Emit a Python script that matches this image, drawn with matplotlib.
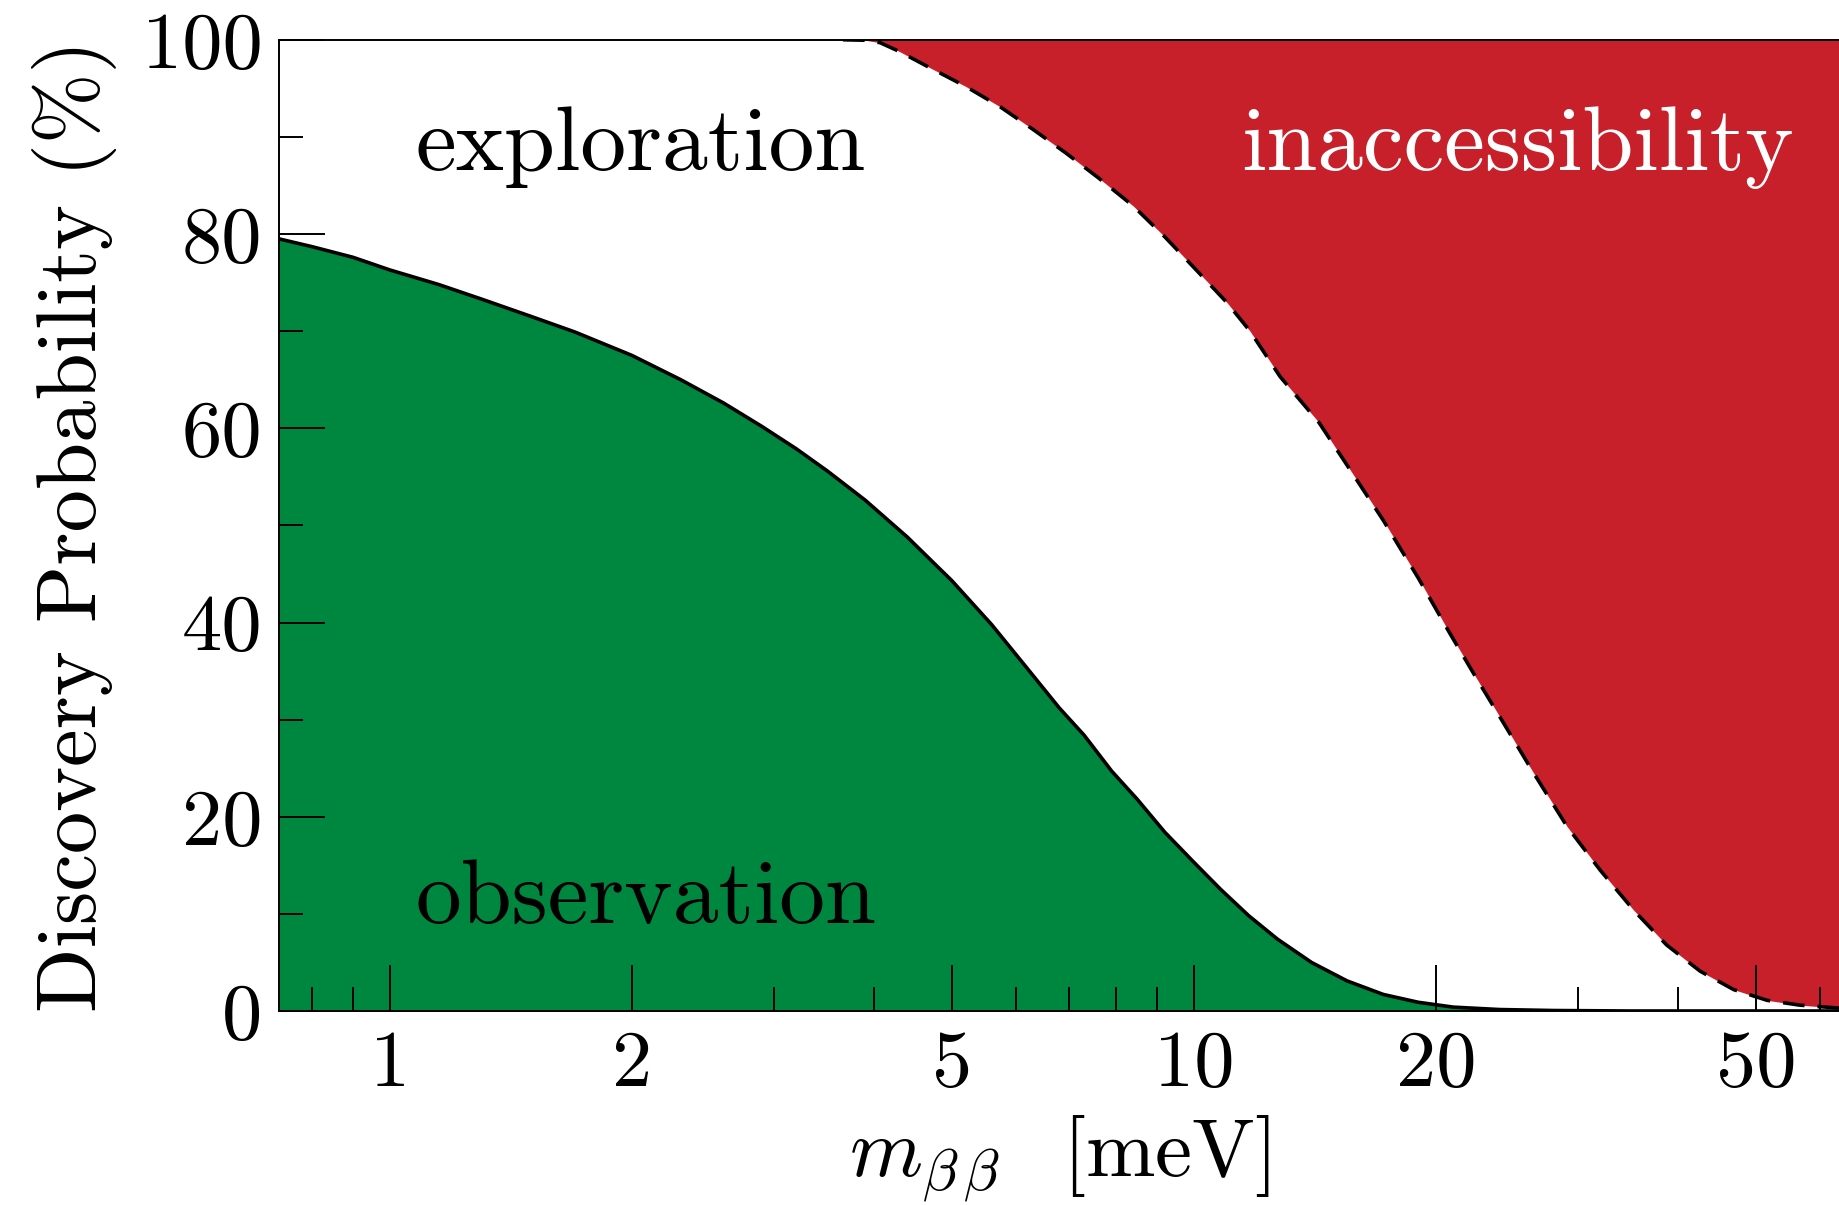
import matplotlib
matplotlib.use("Agg")
import matplotlib.pyplot as plt

# fonts: computer modern look
plt.rcParams['font.family'] = ['cmr10', 'DejaVu Serif']
plt.rcParams['mathtext.fontset'] = 'cm'
plt.rcParams['axes.formatter.use_mathtext'] = True

# observation curve (m_bb in meV, probability in %)
obs_mass = [0.728, 0.80, 0.90, 1.0, 1.15, 1.3, 1.5, 1.7, 2.0, 2.3, 2.6, 2.9, 3.2, 3.5,
            3.9, 4.4, 5.0, 5.6, 6.2, 6.8, 7.3, 7.9, 8.5, 9.2, 10.0, 10.8, 11.7, 12.7,
            14.0, 15.5, 17.2, 19.0, 21.0, 24.0, 28.0, 35.0, 63.4]
obs_prob = [79.5, 78.7, 77.6, 76.3, 74.8, 73.3, 71.5, 69.9, 67.5, 65.0, 62.6, 60.2, 57.9, 55.6,
            52.6, 48.8, 44.3, 39.8, 35.3, 31.2, 28.4, 24.7, 21.8, 18.4, 15.3, 12.5, 9.8, 7.4,
            5.0, 3.1, 1.7, 0.9, 0.4, 0.15, 0.05, 0.0, 0.0]

# inaccessibility boundary (dashed)
inacc_mass = [3.66, 3.9, 4.07, 4.3, 4.65, 5.2, 5.74, 6.3, 6.94, 7.6, 8.4, 9.2, 10.17,
              11.0, 11.74, 12.8, 14.3, 15.7, 17.2, 19.0, 20.8, 22.4, 24.0, 26.4, 29.1,
              32.0, 35.2, 38.7, 42.6, 46.9, 51.6, 56.7, 63.4]
inacc_prob = [100.0, 99.95, 99.7, 98.8, 97.3, 95.2, 93.1, 90.8, 88.3, 85.8, 82.9, 79.7, 75.9,
              72.9, 70.0, 65.3, 60.6, 55.5, 50.5, 44.6, 38.9, 34.4, 30.3, 24.6, 19.0,
              14.5, 10.4, 6.8, 4.1, 2.2, 1.1, 0.6, 0.3]

# ticks
x_major = [1, 2, 5, 10, 20, 50]
x_major_labels = ['1', '2', '5', '10', '20', '50']
x_minor = [0.8, 0.9, 3, 4, 6, 7, 8, 9, 30, 40, 60]
y_major = [0, 20, 40, 60, 80, 100]
y_minor = [10, 30, 50, 70, 90]

green = '#00873F'
red = '#C8202A'

fig = plt.figure(figsize=(18.39, 12.05), dpi=100)
ax = fig.add_axes([0.1517, 0.161, 0.8483, 0.806])

# filled regions
ax.fill_between(obs_mass, 0, obs_prob, color=green, linewidth=0, zorder=1)
ax.fill_between(inacc_mass, inacc_prob, 100, color=red, linewidth=0, zorder=1)

# boundary lines
ax.plot(obs_mass, obs_prob, color='k', linewidth=2.6, zorder=2)
ax.plot(inacc_mass, inacc_prob, color='k', linewidth=2.6, linestyle=(0, (6, 3.6)), zorder=2)

ax.set_xscale('log')
ax.set_xlim(0.728, 63.4)
ax.set_ylim(0, 100)

ax.set_xticks(x_major)
ax.set_xticklabels(x_major_labels)
ax.set_xticks(x_minor, minor=True)
ax.set_xticklabels([], minor=True)
ax.set_yticks(y_major)
ax.set_yticklabels([str(v) for v in y_major])
ax.set_yticks(y_minor, minor=True)

ax.tick_params(which='major', direction='in', length=33, width=1.4, labelsize=58, pad=12)
ax.tick_params(which='minor', direction='in', length=17, width=1.4)
ax.tick_params(axis='x', which='major', pad=14)

for side in ['left', 'bottom', 'top']:
    ax.spines[side].set_linewidth(1.4)
ax.spines['right'].set_visible(False)

# region labels
ax.text(1.077, 86.6, 'exploration', fontsize=66, color='k', va='baseline', ha='left')
ax.text(1.077, 9.1, 'observation', fontsize=66, color='k', va='baseline', ha='left')
ax.text(11.44, 86.6, 'inaccessibility', fontsize=66, color='white', va='baseline', ha='left')

# axis labels
ax.set_xlabel(r'$m_{\beta\,\beta}\;\,$ [meV]', fontsize=60)
ax.set_ylabel('Discovery Probability (%)', fontsize=61)
ax.xaxis.set_label_coords(0.5, -0.105)
ax.yaxis.set_label_coords(-0.104, 0.5)

fig.savefig('out.png', dpi=100)
